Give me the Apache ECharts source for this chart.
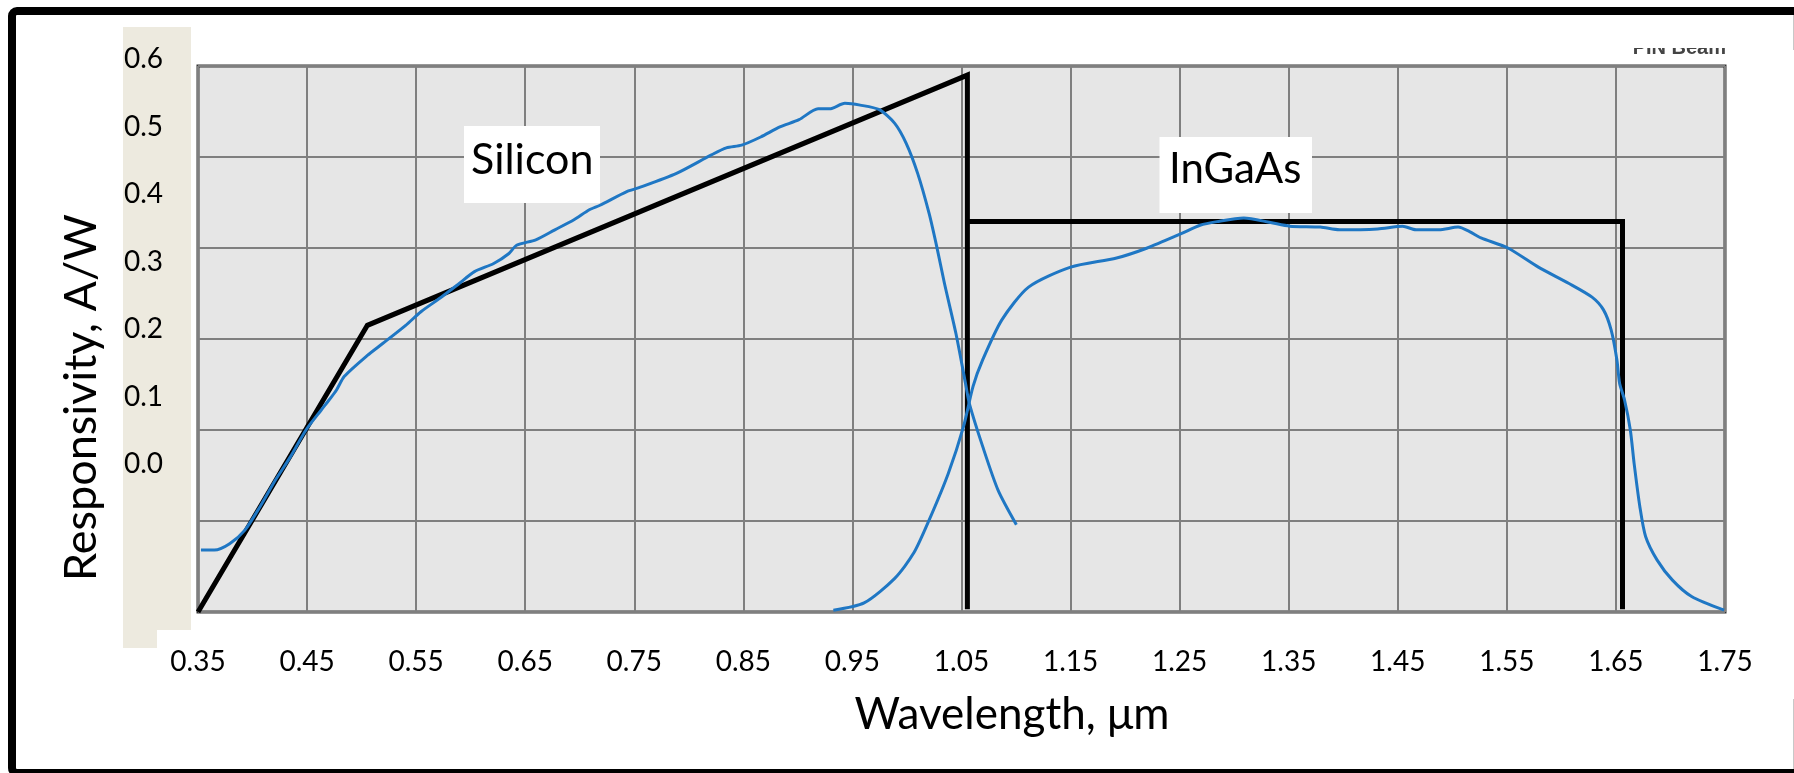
<!DOCTYPE html>
<html><head><meta charset="utf-8">
<script src="https://cdn.jsdelivr.net/npm/echarts@6/dist/echarts.min.js"></script>
<style>html,body{margin:0;padding:0;background:#fff}#c{width:1794px;height:773px}</style>
</head><body><div id="c"></div>
<script>
// ---- data (wavelength in µm, responsivity in A/W) ----
const siliconLambda = [0.3527,0.365,0.379,0.393,0.407,0.421,0.435,0.449,0.463,0.4702,0.477,0.4842,0.5053,0.5193,0.5404,0.5544,0.572,0.5895,0.6035,0.6211,0.6351,0.6421,0.6597,0.6772,0.6947,0.7088,0.7186,0.7431,0.7537,0.7887,0.8203,0.8344,0.8484,0.8659,0.8835,0.901,0.9185,0.9291,0.9431,0.9571,0.9747,0.9888,0.9993,1.0098,1.0203,1.0274,1.0344,1.0449,1.0537,1.0572,1.0694,1.0835,1.1003];
const siliconResp   = [0.068,0.068,0.075,0.090,0.116,0.145,0.171,0.200,0.222,0.233,0.244,0.259,0.282,0.295,0.315,0.330,0.345,0.361,0.374,0.383,0.394,0.403,0.409,0.420,0.431,0.442,0.447,0.462,0.466,0.482,0.502,0.510,0.513,0.522,0.533,0.541,0.553,0.553,0.559,0.557,0.552,0.537,0.515,0.482,0.438,0.401,0.361,0.306,0.251,0.229,0.182,0.134,0.096];
const ingaasLambda  = [0.9325,0.9607,0.9888,1.0063,1.0203,1.0378,1.0519,1.0606,1.0694,1.087,1.1115,1.1501,1.1922,1.2203,1.2519,1.2687,1.2843,1.3088,1.3333,1.3509,1.379,1.3965,1.4316,1.4544,1.4667,1.4877,1.5053,1.5158,1.5263,1.5509,1.5789,1.607,1.6281,1.6386,1.6456,1.6509,1.6534,1.6579,1.6632,1.6667,1.6719,1.6772,1.6878,1.7018,1.7194,1.7492];
const ingaasResp    = [0.002,0.010,0.037,0.065,0.101,0.152,0.204,0.248,0.277,0.321,0.357,0.379,0.389,0.400,0.416,0.425,0.429,0.433,0.428,0.424,0.423,0.420,0.421,0.424,0.420,0.420,0.423,0.418,0.411,0.400,0.379,0.361,0.346,0.332,0.310,0.277,0.251,0.233,0.200,0.163,0.116,0.083,0.057,0.035,0.017,0.002];
const siliconIdealLambda = [0.35, 0.5053, 1.0554, 1.0554];
const siliconIdealResp   = [0, 0.315, 0.590, 0.003];
const ingaasIdealLambda  = [1.0554, 1.656, 1.656];
const ingaasIdealResp    = [0.429, 0.429, 0.003];
const xTickLabels = ['0.35','0.45','0.55','0.65','0.75','0.85','0.95','1.05','1.15','1.25','1.35','1.45','1.55','1.65','1.75'];
const yTickLabels = ['0.0','0.1','0.2','0.3','0.4','0.5','0.6'];
const xTitle = 'Wavelength, \u03bcm';
const yTitle = 'Responsivity, A/W';
const labelSilicon = 'Silicon';
const labelInGaAs = 'InGaAs';

function pairs(xs, ys){ return xs.map((x,i)=>[x, ys[i]]); }

const FONT = 'Lato';
const chart = echarts.init(document.getElementById('c'), null, {renderer:'canvas'});
chart.setOption({
  animation:false,
  backgroundColor:'#ffffff',
  grid:[
    {left:198, top:66, width:1527, height:546, show:true, backgroundColor:'#e6e6e6', borderColor:'#333333', borderWidth:3},
    {left:164, top:59, width:20, height:405, show:false}
  ],
  xAxis:[
    {type:'value', gridIndex:0, min:0.35, max:1.75, interval:0.1,
     axisLine:{show:false}, axisTick:{show:false},
     axisLabel:{fontSize:28, fontFamily:FONT, color:'#000', margin:36,
       formatter:v=>{const i=Math.round((v-0.35)/0.1); return xTickLabels[i]!==undefined?xTickLabels[i]:'';}},
     splitLine:{show:true, lineStyle:{color:'#7f7f7f', width:2}}},
    {type:'value', gridIndex:1, show:false, min:0, max:1}
  ],
  yAxis:[
    {type:'value', gridIndex:0, min:0, max:0.6, interval:0.1,
     axisLine:{show:false}, axisTick:{show:false}, axisLabel:{show:false},
     splitLine:{show:true, lineStyle:{color:'#7f7f7f', width:2}}},
    {type:'value', gridIndex:1, min:0, max:0.6, interval:0.1,
     axisLine:{show:false}, axisTick:{show:false}, splitLine:{show:false},
     axisLabel:{fontSize:28, fontFamily:FONT, color:'#000', margin:1,
       formatter:v=>{const i=Math.round(v/0.1); return yTickLabels[i]!==undefined?yTickLabels[i]:'';}}}
  ],
  series:[
    {type:'line', xAxisIndex:0, yAxisIndex:0, data:pairs(siliconIdealLambda, siliconIdealResp), symbol:'none',
     lineStyle:{color:'#000', width:5, join:'miter'}, z:3},
    {type:'line', xAxisIndex:0, yAxisIndex:0, data:pairs(ingaasIdealLambda, ingaasIdealResp), symbol:'none',
     lineStyle:{color:'#000', width:5, join:'miter'}, z:3},
    {type:'line', xAxisIndex:0, yAxisIndex:0, data:pairs(siliconLambda, siliconResp), symbol:'none', smooth:0.25,
     lineStyle:{color:'#1f77c4', width:3}, z:4},
    {type:'line', xAxisIndex:0, yAxisIndex:0, data:pairs(ingaasLambda, ingaasResp), symbol:'none', smooth:0.25,
     lineStyle:{color:'#1f77c4', width:3}, z:4}
  ],
  graphic:[
    {type:'rect', z:-1, shape:{x:123, y:27, width:68, height:603}, style:{fill:'#edeadf'}},
    {type:'rect', z:-1, shape:{x:123, y:629, width:34, height:19}, style:{fill:'#edeadf'}},
    {type:'rect', z:100, shape:{x:12, y:11, width:1800, height:762, r:5}, style:{fill:null, stroke:'#000', lineWidth:8}},
    {type:'line', z:100, shape:{x1:1793.5, y1:15, x2:1793.5, y2:50}, style:{stroke:'#c8c8c8', lineWidth:1}},
    {type:'line', z:100, shape:{x1:1793.5, y1:699, x2:1793.5, y2:769}, style:{stroke:'#c8c8c8', lineWidth:1}},
    {type:'text', z:100, x:1726, y:58, style:{text:'PIN Beam', fontSize:20, fontFamily:'Liberation Sans', fontWeight:'bold', fill:'#444', align:'right', verticalAlign:'bottom'}},
    {type:'rect', z:101, shape:{x:1630, y:16, width:110, height:32}, style:{fill:'#fff'}},
    {type:'rect', z:100, shape:{x:464, y:126, width:136, height:77}, style:{fill:'#fff'}},
    {type:'text', z:101, x:471, y:160, style:{text:labelSilicon, fontSize:43, fontFamily:FONT, fill:'#000', align:'left', verticalAlign:'middle'}},
    {type:'rect', z:100, shape:{x:1159.5, y:137, width:152.5, height:76}, style:{fill:'#fff'}},
    {type:'text', z:101, x:1169, y:169.4, style:{text:labelInGaAs, fontSize:42, fontFamily:FONT, fill:'#000', align:'left', verticalAlign:'middle'}},
    {type:'text', z:100, x:1012, y:715, style:{text:xTitle, fontSize:44, fontFamily:FONT, fill:'#000', align:'center', verticalAlign:'middle'}},
    {type:'text', z:100, x:81.5, y:397.5, rotation:Math.PI/2, style:{text:yTitle, fontSize:45, fontFamily:FONT, fill:'#000', align:'center', verticalAlign:'middle'}}
  ]
});
</script>
</body></html>
